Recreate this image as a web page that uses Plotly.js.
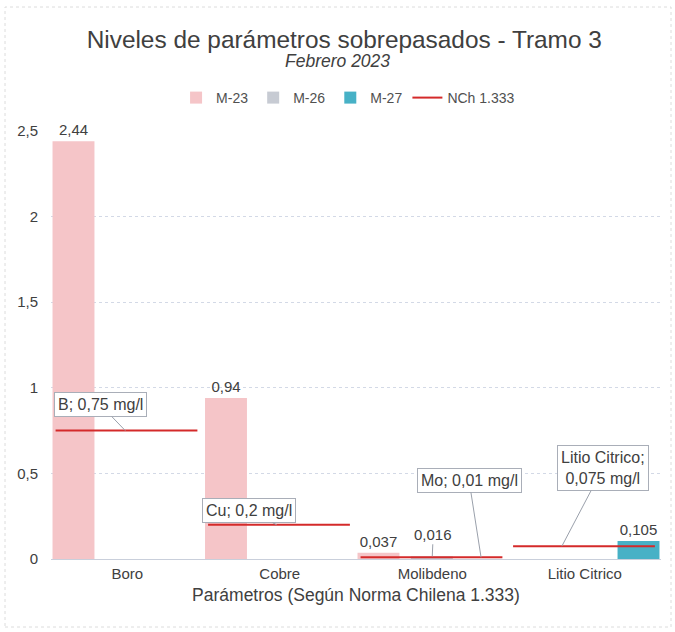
<!DOCTYPE html>
<html>
<head>
<meta charset="utf-8">
<script src="https://cdn.plot.ly/plotly-3.0.1.min.js"></script>
<style>html,body{margin:0;padding:0;background:#fff;}#chart{width:675px;height:632px;}</style>
</head>
<body>
<div id="chart"></div>
<script>
const categories = ['Boro', 'Cobre', 'Molibdeno', 'Litio Citrico'];
const m23 = [2.44, 0.94, 0.037, null];
const m26 = [null, null, 0.016, null];
const m27 = [null, null, null, 0.105];
const nchLimits = [0.75, 0.2, 0.01, 0.075];
const nchLabels = ['B; 0,75 mg/l', 'Cu; 0,2 mg/l', 'Mo; 0,01 mg/l', 'Litio Citrico;<br>0,075 mg/l'];
const yTicks = [0, 0.5, 1, 1.5, 2, 2.5];

const idx = categories.map((c, i) => i);
const fmt = v => (v == null ? '' : String(v).replace('.', ','));
const txtColor = '#404040';
const font = 'Liberation Sans, Arial, sans-serif';

const barCommon = {
  type: 'bar', x: idx, width: 0.275, cliponaxis: false,
  textposition: 'outside', constraintext: 'none',
  textfont: {size: 15, color: txtColor, family: font},
  hoverinfo: 'skip'
};

const t23 = Object.assign({}, barCommon, {name: 'M-23', y: m23, offset: -0.49, text: m23.map(fmt),
  marker: {color: '#f5c5c8', line: {width: 0}}});
const t26 = Object.assign({}, barCommon, {name: 'M-26', y: m26, offset: -0.14, text: m26.map(() => ''),
  marker: {color: '#c7cbd3', line: {width: 0}}});
const t27 = Object.assign({}, barCommon, {name: 'M-27', y: m27, offset: 0.215, text: m27.map(fmt),
  marker: {color: '#47b1c6', line: {width: 0}}});

// NCh 1.333 limit segments across each category
const lx = [], ly = [];
nchLimits.forEach((v, i) => { lx.push(i - 0.47, i + 0.46, null); ly.push(v, v, null); });
const tN = {type: 'scatter', mode: 'lines', name: 'NCh 1.333', x: lx, y: ly,
  line: {color: '#d42a2a', width: 2}, hoverinfo: 'skip', cliponaxis: false};

// callout annotations (point on limit line, box offset in px)
const calloutPos = [
  {dx: -0.013, ax: -25, ay: -26},
  {dx: -0.02, ax: -28, ay: -14},
  {dx: 0.32, ax: -12, ay: -77},
  {dx: -0.15, ax: 41, ay: -78}
];
const annotations = nchLimits.map((v, i) => ({
  x: i + calloutPos[i].dx, y: v, xref: 'x', yref: 'y',
  text: nchLabels[i], showarrow: true, arrowhead: 0, arrowwidth: 1, arrowcolor: '#9aa0ab',
  ax: calloutPos[i].ax, ay: calloutPos[i].ay, standoff: 0,
  font: {size: 16, color: txtColor, family: font},
  bgcolor: '#ffffff', bordercolor: '#a9aeb8', borderwidth: 1, borderpad: 3
}));
// M-26 data label with leader line
m26.forEach((v, i) => {
  if (v != null) annotations.push({
    x: i, y: v, xref: 'x', yref: 'y', text: fmt(v), showarrow: true, arrowhead: 0,
    arrowwidth: 1, arrowcolor: '#9aa0ab', ax: 1, ay: -22, standoff: 0,
    font: {size: 15, color: txtColor, family: font}
  });
});
// subtitle
annotations.push({xref: 'paper', yref: 'paper', x: 0.47, y: 1 + (131 - 61) / 428, xanchor: 'center', yanchor: 'middle',
  text: '<i>Febrero 2023</i>', showarrow: false, font: {size: 17.5, color: '#404040', family: font}});

const layout = {
  width: 675, height: 632,
  margin: {l: 51, r: 14, t: 131, b: 73},
  paper_bgcolor: '#ffffff', plot_bgcolor: '#ffffff',
  separators: ',.',
  font: {family: font, color: txtColor, size: 15},
  title: {text: 'Niveles de parámetros sobrepasados - Tramo 3', font: {size: 24.4, color: '#404040', family: font},
    x: 0.51, xanchor: 'center', y: 1 - 39 / 632, yanchor: 'middle', yref: 'container'},
  showlegend: true,
  legend: {orientation: 'h', x: 0.487, xanchor: 'center', y: 1 - 98 / 632, yanchor: 'middle', yref: 'container',
    font: {size: 14, color: '#505050', family: font}, itemwidth: 30, traceorder: 'normal', tracegroupgap: 0},
  barmode: 'group',
  xaxis: {
    type: 'linear', range: [-0.5, 3.5], tickvals: idx, ticktext: categories,
    showgrid: false, zeroline: false, showline: false, ticks: '',
    tickfont: {size: 15, color: txtColor}, ticklabelstandoff: 4,
    title: {text: 'Parámetros (Según Norma Chilena 1.333)', font: {size: 17.5, color: txtColor}, standoff: 7},
    fixedrange: true
  },
  yaxis: {
    range: [0, 2.5], tickvals: yTicks, showgrid: true, gridcolor: '#d3d9e6', griddash: 'dot', gridwidth: 1,
    zeroline: true, zerolinecolor: '#c9cfdb', zerolinewidth: 1, showline: false, ticks: '',
    tickfont: {size: 15, color: txtColor}, ticklabelstandoff: 12, fixedrange: true
  },
  annotations: annotations,
  shapes: [{type: 'rect', xref: 'paper', yref: 'paper', x0: -46 / 610, x1: 1 + 10 / 610, y0: -68 / 428, y1: 1 + 124 / 428,
    line: {color: '#dcdcdc', width: 1, dash: 'dot'}, layer: 'below'}]
};

Plotly.newPlot('chart', [t23, t26, t27, tN], layout, {displayModeBar: false, staticPlot: true});
</script>
</body>
</html>
